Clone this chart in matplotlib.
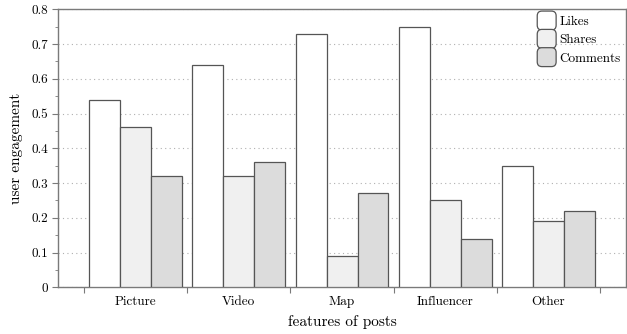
import matplotlib
matplotlib.use("Agg")
import matplotlib.pyplot as plt
import numpy as np
from matplotlib.patches import FancyBboxPatch, Patch
from matplotlib.legend_handler import HandlerPatch
from matplotlib.ticker import MultipleLocator, FixedLocator

plt.rcParams['font.family'] = 'serif'
plt.rcParams['font.serif'] = ['cmr10', 'DejaVu Serif']
plt.rcParams['axes.formatter.use_mathtext'] = True
plt.rcParams['mathtext.fontset'] = 'cm'

# data
categories = ["Picture", "Video", "Map", "Influencer", "Other"]
series_names = ["Likes", "Shares", "Comments"]
likes = [0.54, 0.64, 0.73, 0.75, 0.35]
shares = [0.46, 0.32, 0.09, 0.25, 0.19]
comments = [0.32, 0.36, 0.27, 0.14, 0.22]
y_ticks = [0, 0.1, 0.2, 0.3, 0.4, 0.5, 0.6, 0.7, 0.8]
y_tick_labels = ["0", "0.1", "0.2", "0.3", "0.4", "0.5", "0.6", "0.7", "0.8"]

colors = ["#ffffff", "#f0f0f0", "#dcdcdc"]
edge = "#555555"
spine = "#7a7a7a"


class RoundBoxHandler(HandlerPatch):
    # rounded square legend keys
    def create_artists(self, legend, orig_handle, xdescent, ydescent,
                       width, height, fontsize, trans):
        s = height * 1.6
        p = FancyBboxPatch((-xdescent + (width - s) / 2, -ydescent - (s - height) / 2),
                           s, s, boxstyle="round,pad=0,rounding_size=%f" % (s * 0.25),
                           facecolor=orig_handle.get_facecolor(),
                           edgecolor=orig_handle.get_edgecolor(), linewidth=0.9)
        p.set_transform(trans)
        return [p]


fig, ax = plt.subplots(figsize=(6.27, 3.34), dpi=100)
fig.subplots_adjust(left=0.093, right=0.998, top=0.972, bottom=0.14)

x = np.arange(len(categories))
w = 0.3
for i, vals in enumerate([likes, shares, comments]):
    ax.bar(x + (i - 1) * w, vals, width=w, color=colors[i], edgecolor=edge,
           linewidth=0.9, label=series_names[i], zorder=3)

ax.set_xlim(-0.75, 4.75)
ax.set_ylim(0, 0.8)
ax.set_yticks(y_ticks)
ax.set_yticklabels(y_tick_labels)
ax.yaxis.set_minor_locator(MultipleLocator(0.05))

ax.set_xticks(x)
ax.set_xticklabels(categories)
ax.xaxis.set_minor_locator(FixedLocator(np.arange(-0.5, 5, 1.0)))
ax.tick_params(axis='x', which='major', length=0, labelsize=9.5, pad=6)
ax.tick_params(axis='x', which='minor', length=4, width=0.8, color=spine, direction='out')
ax.tick_params(axis='y', which='major', length=4, width=0.8, color=spine, labelsize=9.5)
ax.tick_params(axis='y', which='minor', length=2, width=0.6, color=spine)

ax.grid(axis='y', linestyle=(0, (1, 3)), color="#b0b0b0", linewidth=0.8, zorder=0)
for s in ax.spines.values():
    s.set_color(spine)
    s.set_linewidth(1.0)

ax.set_ylabel("user engagement", fontsize=11, labelpad=6)
ax.set_xlabel("features of posts", fontsize=11, labelpad=5)

handles = [Patch(facecolor=c, edgecolor=edge) for c in colors]
ax.legend(handles, series_names, loc='upper right', frameon=False, fontsize=9.5,
          handler_map={Patch: RoundBoxHandler()}, handlelength=1.0, handleheight=1.0,
          labelspacing=0.37, handletextpad=0.45, borderaxespad=0.0)

plt.savefig("out.png", dpi=100)
